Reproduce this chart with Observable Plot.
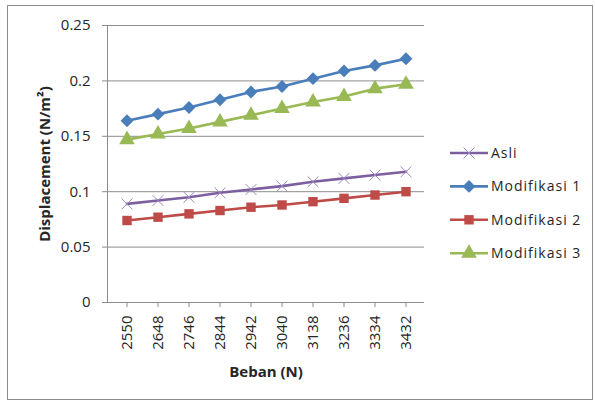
<!DOCTYPE html>
<html><head><meta charset="utf-8">
<script src="https://cdn.jsdelivr.net/npm/d3@7"></script>
<script src="https://cdn.jsdelivr.net/npm/@observablehq/plot@0.6"></script>
<style>body{margin:0;background:#fff}</style>
</head><body><div id="chart"></div>
<script>
const categories = ["2550","2648","2746","2844","2942","3040","3138","3236","3334","3432"];
const asli = [0.089,0.092,0.095,0.099,0.102,0.105,0.109,0.112,0.115,0.118];
const mod1 = [0.164,0.170,0.176,0.183,0.190,0.195,0.202,0.209,0.214,0.220];
const mod2 = [0.074,0.077,0.080,0.083,0.086,0.088,0.091,0.094,0.097,0.100];
const mod3 = [0.147,0.152,0.157,0.163,0.169,0.175,0.181,0.186,0.193,0.197];
const seriesNames = ["Asli","Modifikasi 1","Modifikasi 2","Modifikasi 3"];
const seriesColors = ["#7D5FA0","#4A7EBB","#BE4B48","#98B954"];
const seriesSymbols = ["times","diamond2","square","triangle"];
const yTicks = [0,0.05,0.1,0.15,0.2,0.25];
const yTickLabels = ["0","0.05","0.1","0.15","0.2","0.25"];
const xTitle = "Beban (N)";
const yTitle = "Displacement (N/m²)";

const seriesValues = [asli, mod1, mod2, mod3];
const rows = seriesNames.flatMap((name, s) =>
  categories.map((c, i) => ({series: name, beban: c, value: seriesValues[s][i]})));

const textColor = "#262626";
const gridColor = "#8c8c8c";
const font = "'Open Sans', sans-serif";

const dotMarks = seriesNames.map((name, s) => {
  const data = rows.filter(d => d.series === name);
  const sym = seriesSymbols[s];
  if (sym === "times") {
    return Plot.dot(data, {x: "beban", y: "value", symbol: sym, r: 5, stroke: "#9b86c2", strokeWidth: 1, fill: "none"});
  }
  return Plot.dot(data, {x: "beban", y: "value", symbol: sym, r: sym === "square" ? 5.3 : 5.8, fill: seriesColors[s], stroke: "none"});
});

const chart = Plot.plot({
  width: 595,
  height: 401,
  marginLeft: 107,
  marginRight: 171,
  marginTop: 25,
  marginBottom: 99,
  style: {fontFamily: font, background: "#fff", color: textColor, overflow: "visible"},
  x: {type: "band", domain: categories, padding: 0},
  y: {domain: [0, 0.25]},
  color: {domain: seriesNames, range: seriesColors},
  marks: [
    Plot.gridY(yTicks, {stroke: gridColor, strokeOpacity: 1, strokeWidth: 1}),
    Plot.ruleY([0], {stroke: gridColor, strokeWidth: 1, insetLeft: -5}),
    Plot.frame({anchor: "left", stroke: gridColor, strokeWidth: 1}),
    Plot.axisY({ticks: yTicks, tickFormat: d => yTickLabels[yTicks.indexOf(d)], tickSize: 5, tickPadding: 12,
      stroke: gridColor, fill: textColor, fontSize: 15, label: null}),
    Plot.axisX({tickSize: 5, tickPadding: 8, tickRotate: -90, stroke: gridColor, fill: textColor, fontSize: 15, label: null}),
    Plot.text([xTitle], {frameAnchor: "bottom", dy: 70, fontSize: 15, fontWeight: "bold", fill: textColor, lineAnchor: "middle", textAnchor: "middle"}),
    Plot.text([yTitle], {frameAnchor: "left", dx: -62, rotate: -90, fontSize: 15, fontWeight: "bold", fill: textColor, lineAnchor: "middle", textAnchor: "middle"}),
    Plot.line(rows, {x: "beban", y: "value", z: "series", stroke: "series", strokeWidth: 2.6}),
    ...dotMarks
  ]
});

document.getElementById("chart").appendChild(chart);

// chart border and legend
const svg = d3.select(chart);
svg.insert("rect", ":first-child")
  .attr("x", 7.5).attr("y", 5.5).attr("width", 585).attr("height", 394)
  .attr("fill", "none").attr("stroke", "#8c8c8c");
const legend = svg.append("g").attr("font-family", font).attr("text-anchor", "start");
const symMap = {times: d3.symbolTimes, diamond2: d3.symbolDiamond2, square: d3.symbolSquare, triangle: d3.symbolTriangle};
seriesNames.forEach((name, s) => {
  const y = 153 + s * 33.4;
  const g = legend.append("g");
  g.append("line").attr("x1", 450).attr("x2", 488).attr("y1", y).attr("y2", y)
    .attr("stroke", seriesColors[s]).attr("stroke-width", 2.6);
  const sym = seriesSymbols[s];
  const r = sym === "times" ? 5 : (sym === "square" ? 5.3 : 5.8);
  const path = g.append("path").attr("transform", `translate(469,${y})`)
    .attr("d", d3.symbol(symMap[sym], Math.PI * r * r)());
  if (sym === "times") path.attr("fill", "none").attr("stroke", "#9b86c2").attr("stroke-width", 1);
  else path.attr("fill", seriesColors[s]);
  g.append("text").attr("x", 491).attr("y", y).attr("dy", "0.36em").attr("text-anchor", "start")
    .attr("font-size", 14).attr("letter-spacing", 1).attr("fill", textColor).text(name);
});
</script>
</body></html>
